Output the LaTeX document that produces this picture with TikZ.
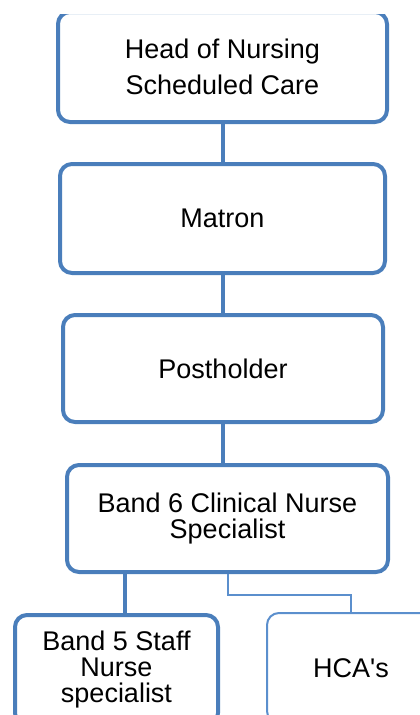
\documentclass[tikz,border=0pt]{standalone}
\usepackage{fontspec}
\setmainfont{Liberation Sans}
\newfontfamily\plainfont{Liberation Sans}
\definecolor{nblue}{RGB}{74,126,187}
\definecolor{lblue}{RGB}{91,143,205}
\tikzset{
  post box/.style={draw=nblue, line width=4pt, rounded corners=12pt, inner sep=0pt,
    align=center, font=\fontsize{27}{26}\selectfont},
  thin box/.style={post box, draw=lblue, line width=2pt},
  link/.style={draw=nblue, line width=4pt},
  thin link/.style={draw=lblue, line width=2pt}
}
\begin{document}
\begin{tikzpicture}[x=1pt,y=-1pt]
  \useasboundingbox (0,0) rectangle (420,715);
  \begin{scope}
    \clip (0,14) rectangle (420,715);
    \node [post box, minimum width=329pt, minimum height=110pt] (head) at (222.5,67) {Head of Nursing\\[10pt]Scheduled Care};
    \node [post box, minimum width=325pt, minimum height=109pt] (matron) at (222.5,218.5) {Matron};
    \node [post box, minimum width=320pt, minimum height=107pt] (post) at (223,368.5) {Postholder};
    \node [post box, minimum width=321pt, minimum height=107pt] (band6) at (227.5,518.5) {Band 6 Clinical Nurse\\Specialist};
    \node [post box, minimum width=203pt, minimum height=110pt] (band5) at (116.5,670) {Band 5 Staff\\Nurse\\specialist};
    \node [thin box, minimum width=168pt, minimum height=110pt] (hca) at (351,668) {\plainfont HCA's};
    \draw [link] (head.south) -- (head.south |- matron.north);
    \draw [link] (matron.south) -- (matron.south |- post.north);
    \draw [link] (post.south) -- (post.south |- band6.north);
    \draw [link] ([xshift=8.5pt]band5.north) -- ([xshift=8.5pt]band5.north |- band6.south);
    \draw [thin link] (band6.south) -- ++(0,21) -| (hca.north);
  \end{scope}
\end{tikzpicture}
\end{document}
